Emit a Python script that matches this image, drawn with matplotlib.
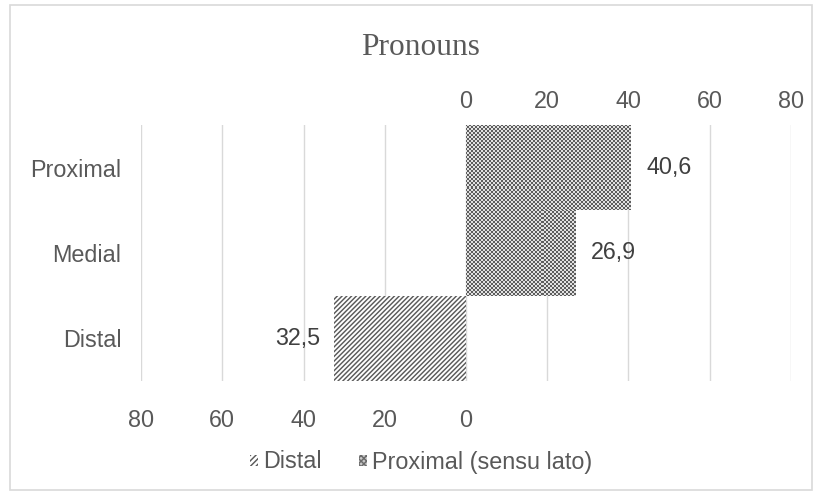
import numpy as np
import matplotlib
matplotlib.use("Agg")
import matplotlib.pyplot as plt
from matplotlib.colors import ListedColormap
from matplotlib.patches import Patch, Rectangle

categories = ["Distal", "Medial", "Proximal"]          # bottom -> top
distal_values = [32.5, 0, 0]
proximal_values = [0, 26.9, 40.6]
top_ticks = [0, 20, 40, 60, 80]
bottom_ticks = [-80, -60, -40, -20, 0]
title = "Pronouns"
legend_labels = ["Distal", "Proximal (sensu lato)"]

TXT = "#595959"
GRID = "#d9d9d9"
FS = 16.8

plt.rcParams["font.family"] = ["Liberation Sans", "DejaVu Sans"]
plt.rcParams["hatch.linewidth"] = 1.05
plt.rcParams["hatch.color"] = "#5a5a5a"

fig = plt.figure(figsize=(8.19, 4.95), dpi=100)
ax = fig.add_axes([141/819, 1-381/495, 650/819, 256/495])

# border of chart area
fig.patches.append(Rectangle((10/819, 5/495), 802/819, 485/495, transform=fig.transFigure,
                             fill=False, edgecolor=GRID, linewidth=1.2))

ax.set_xlim(-80, 80)
ax.set_ylim(-0.5, 2.5)
y = np.arange(len(categories))

for gx in bottom_ticks + top_ticks[1:]:
    ax.axvline(gx, color=GRID, linewidth=1.0, zorder=0)

# Distal bars (to the left)
dbars = ax.barh(y, [-v for v in distal_values], height=1.0, facecolor="white",
                edgecolor="#5a5a5a", hatch="///////", linewidth=0, zorder=2)

# Proximal bars with checkerboard fill
pbars = ax.barh(y, proximal_values, height=1.0, facecolor="none",
                edgecolor="none", linewidth=0, zorder=2)
ncols, nrows = 325, 128
ii, jj = np.indices((nrows, ncols))
checker = ((ii + jj) % 2).astype(float)
cmap = ListedColormap(["#e2e2e2", "#5e5e5e"])
for b, v in zip(pbars, proximal_values):
    if v <= 0:
        continue
    im = ax.imshow(checker, cmap=cmap, extent=[-80, 80, -0.5, 2.5], aspect="auto",
                   interpolation="nearest", zorder=3, origin="lower")
    im.set_clip_path(b)
ax.set_xlim(-80, 80)
ax.set_ylim(-0.5, 2.5)

# data labels
for yi, v in zip(y, distal_values):
    if v > 0:
        ax.annotate(f"{v:.1f}".replace(".", ","), (-v, yi), xytext=(-10, 0),
                    textcoords="offset points", ha="right", va="center",
                    fontsize=FS, color="#404040")
for yi, v in zip(y, proximal_values):
    if v > 0:
        ax.annotate(f"{v:.1f}".replace(".", ","), (v, yi), xytext=(11, 0),
                    textcoords="offset points", ha="left", va="center",
                    fontsize=FS, color="#404040")

for s in ax.spines.values():
    s.set_visible(False)
ax.set_yticks(y)
ax.set_yticklabels(categories, fontsize=FS, color=TXT)
ax.set_xticks(bottom_ticks)
ax.set_xticklabels([str(abs(t)) for t in bottom_ticks], fontsize=FS, color=TXT)
ax.tick_params(axis="x", length=0, pad=20)
ax.tick_params(axis="y", length=0, pad=14)

sec = ax.secondary_xaxis("top")
sec.set_xticks(top_ticks)
sec.set_xticklabels([str(t) for t in top_ticks], fontsize=FS, color=TXT)
sec.tick_params(length=0, pad=8.5)
for s in sec.spines.values():
    s.set_visible(False)

fig.text(421/819, 1-55/495, title, fontsize=22.6, color=TXT,
         family=["Liberation Serif", "DejaVu Serif"], ha="center", va="baseline")

handles = [Patch(facecolor="white", edgecolor="#5a5a5a", hatch="//////", linewidth=0),
           Patch(facecolor="#c8c8c8", edgecolor="#6a6a6a", hatch="xxxxxx", linewidth=0)]
leg = fig.legend(handles, legend_labels, loc="center", bbox_to_anchor=(421/819, 1-462/495),
                 ncol=2, frameon=False, fontsize=FS, handlelength=0.35, handleheight=0.35,
                 handletextpad=0.2, columnspacing=1.6, borderpad=0)
for t in leg.get_texts():
    t.set_color(TXT)

fig.savefig("out.png", dpi=100)
